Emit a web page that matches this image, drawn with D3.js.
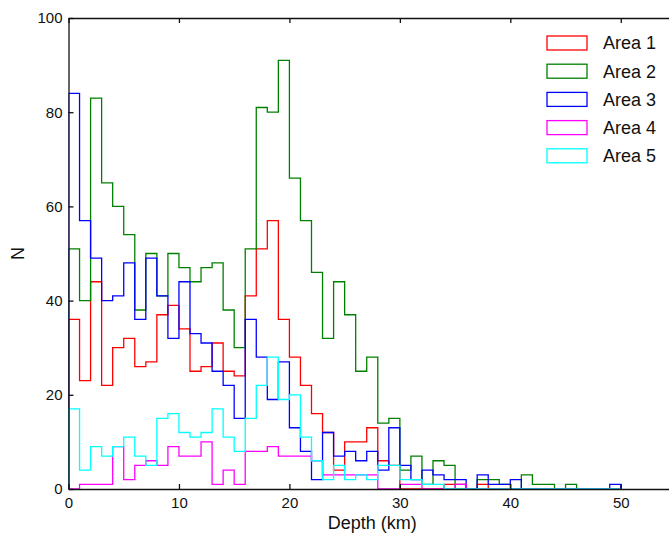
<!DOCTYPE html>
<html>
<head>
<meta charset="utf-8">
<script src="https://cdn.jsdelivr.net/npm/d3@7"></script>
<style>
  body { margin: 0; background: #fff; }
  text { font-family: "Liberation Sans", Arial, sans-serif; fill: #111; }
</style>
</head>
<body>
<div class="depth-container"></div>
<script>
// --- Histogram counts per 1 km depth bin (bins start at 0 km) ---
const seriesNames = ["Area 1", "Area 2", "Area 3", "Area 4", "Area 5"];
const seriesColors = ["#ff0000", "#008000", "#0000ff", "#ff00ff", "#00ffff"];

const area1 = [36, 23, 44, 22, 30, 32, 26, 27, 37, 39, 34, 25, 26, 31, 25, 24, 41, 51, 57, 36,
               28, 22, 16, 12, 4, 10, 10, 13, 6, 5, 0, 0, 0, 0, 1, 1, 0, 1, 0, 0,
               0, 0, 0, 0, 0, 0, 0, 0, 0, 0];
const area2 = [51, 40, 83, 65, 60, 54, 38, 50, 41, 50, 47, 44, 47, 48, 38, 30, 51, 81, 80, 91,
               66, 57, 46, 32, 44, 37, 25, 28, 14, 15, 4, 7, 1, 6, 5, 0, 0, 2, 2, 1,
               0, 3, 1, 1, 0, 1, 0, 0, 0, 0];
const area3 = [84, 57, 49, 40, 41, 48, 36, 49, 41, 32, 44, 33, 31, 25, 22, 15, 36, 28, 19, 27,
               13, 8, 2, 12, 7, 8, 6, 8, 4, 13, 5, 2, 4, 3, 2, 2, 0, 3, 1, 1,
               2, 0, 0, 0, 0, 0, 0, 0, 0, 1];
const area4 = [0, 1, 1, 1, 9, 2, 5, 6, 5, 9, 7, 7, 10, 1, 4, 1, 8, 8, 9, 7,
               7, 7, 6, 3, 3, 3, 3, 3, 0, 0, 1, 1, 0, 0, 0, 1, 0, 0, 0, 0,
               0, 0, 0, 0, 0, 0, 0, 0, 0, 0];
const area5 = [17, 4, 9, 7, 9, 11, 7, 5, 15, 16, 12, 11, 12, 17, 11, 8, 15, 22, 28, 19,
               20, 11, 6, 2, 5, 2, 3, 2, 5, 5, 2, 2, 1, 1, 0, 0, 0, 0, 0, 0,
               0, 0, 0, 0, 0, 0, 0, 0, 0, 0];

const xTicks = [0, 10, 20, 30, 40, 50];
const yTicks = [0, 20, 40, 60, 80, 100];

const createDepthHistogram = (allSeries) => {
    const viewW = 669;
    const viewH = 536;
    const margin = { top: 18, left: 68.5, bottom: 47 };
    const plotRight = 676;          // axis continues past the cropped edge

    const svg = d3.select(".depth-container")
        .append("svg")
        .attr("width", viewW)
        .attr("height", viewH);

    const xScale = d3.scaleLinear()
        .domain([0, 55])
        .range([margin.left, plotRight]);

    const yScale = d3.scaleLinear()
        .domain([0, 100])
        .range([viewH - margin.bottom, margin.top]);

    svg.append("defs").append("clipPath")
        .attr("id", "plotClip")
        .append("rect")
        .attr("x", margin.left)
        .attr("y", margin.top - 1)
        .attr("width", plotRight - margin.left)
        .attr("height", yScale(0) - margin.top + 2);

    // step outline: baseline -> each bin top -> baseline
    const stepLine = d3.line()
        .x(d => xScale(d[0]))
        .y(d => yScale(d[1]));

    const outline = counts => {
        const pts = [[0, 0]];
        counts.forEach((c, i) => {
            pts.push([i, c]);
            pts.push([i + 1, c]);
        });
        pts.push([counts.length, 0]);
        return pts;
    };

    svg.append("g")
        .attr("clip-path", "url(#plotClip)")
        .selectAll("path")
        .data(allSeries)
        .enter()
        .append("path")
        .attr("d", d => stepLine(outline(d.counts)))
        .attr("fill", "none")
        .attr("stroke", d => d.color)
        .attr("stroke-width", 1.3)
        .attr("stroke-linejoin", "miter");

    // --- Axes (ticks point inward) ---
    const axisBottom = d3.axisBottom(xScale)
        .tickValues(xTicks)
        .tickSizeInner(-5)
        .tickSizeOuter(0)
        .tickPadding(8);

    const axisTop = d3.axisTop(xScale)
        .tickValues(xTicks)
        .tickSizeInner(-5)
        .tickSizeOuter(0)
        .tickFormat("");

    const axisLeft = d3.axisLeft(yScale)
        .tickValues(yTicks)
        .tickSizeInner(-5)
        .tickSizeOuter(0)
        .tickPadding(6);

    const styleAxis = g => {
        g.select(".domain").attr("stroke", "#111").attr("stroke-width", 1.3);
        g.selectAll(".tick line").attr("stroke", "#111").attr("stroke-width", 1.3);
        g.selectAll("text")
            .style("font-size", "15px")
            .style("font-family", "'Liberation Sans', Arial, sans-serif")
            .attr("fill", "#111");
    };

    svg.append("g")
        .attr("transform", `translate(0,${yScale(0)})`)
        .call(axisBottom)
        .call(styleAxis);

    svg.append("g")
        .attr("transform", `translate(0,${yScale(100)})`)
        .call(axisTop)
        .call(styleAxis);

    svg.append("g")
        .attr("transform", `translate(${margin.left},0)`)
        .call(axisLeft)
        .call(styleAxis);

    // axis labels
    svg.append("text")
        .attr("x", (margin.left + plotRight) / 2)
        .attr("y", 529)
        .attr("text-anchor", "middle")
        .style("font-size", "18px")
        .text("Depth (km)");

    svg.append("text")
        .attr("transform", `translate(24,${yScale(50)}) rotate(-90)`)
        .attr("text-anchor", "middle")
        .style("font-size", "18px")
        .text("N");

    // --- Legend ---
    const legend = svg.append("g")
        .attr("transform", "translate(547,36)");

    const rows = legend.selectAll("g")
        .data(allSeries)
        .enter()
        .append("g")
        .attr("transform", (d, i) => `translate(0,${i * 28.2})`);

    rows.append("rect")
        .attr("width", 40)
        .attr("height", 14)
        .attr("fill", "#fff")
        .attr("stroke", d => d.color)
        .attr("stroke-width", 1.3);

    rows.append("text")
        .attr("x", 56)
        .attr("y", 7)
        .attr("dy", "0.36em")
        .style("font-size", "18px")
        .text(d => d.name);
};

const countsList = [area1, area2, area3, area4, area5];
createDepthHistogram(seriesNames.map((name, i) => ({
    name: name,
    color: seriesColors[i],
    counts: countsList[i]
})));
</script>
</body>
</html>
